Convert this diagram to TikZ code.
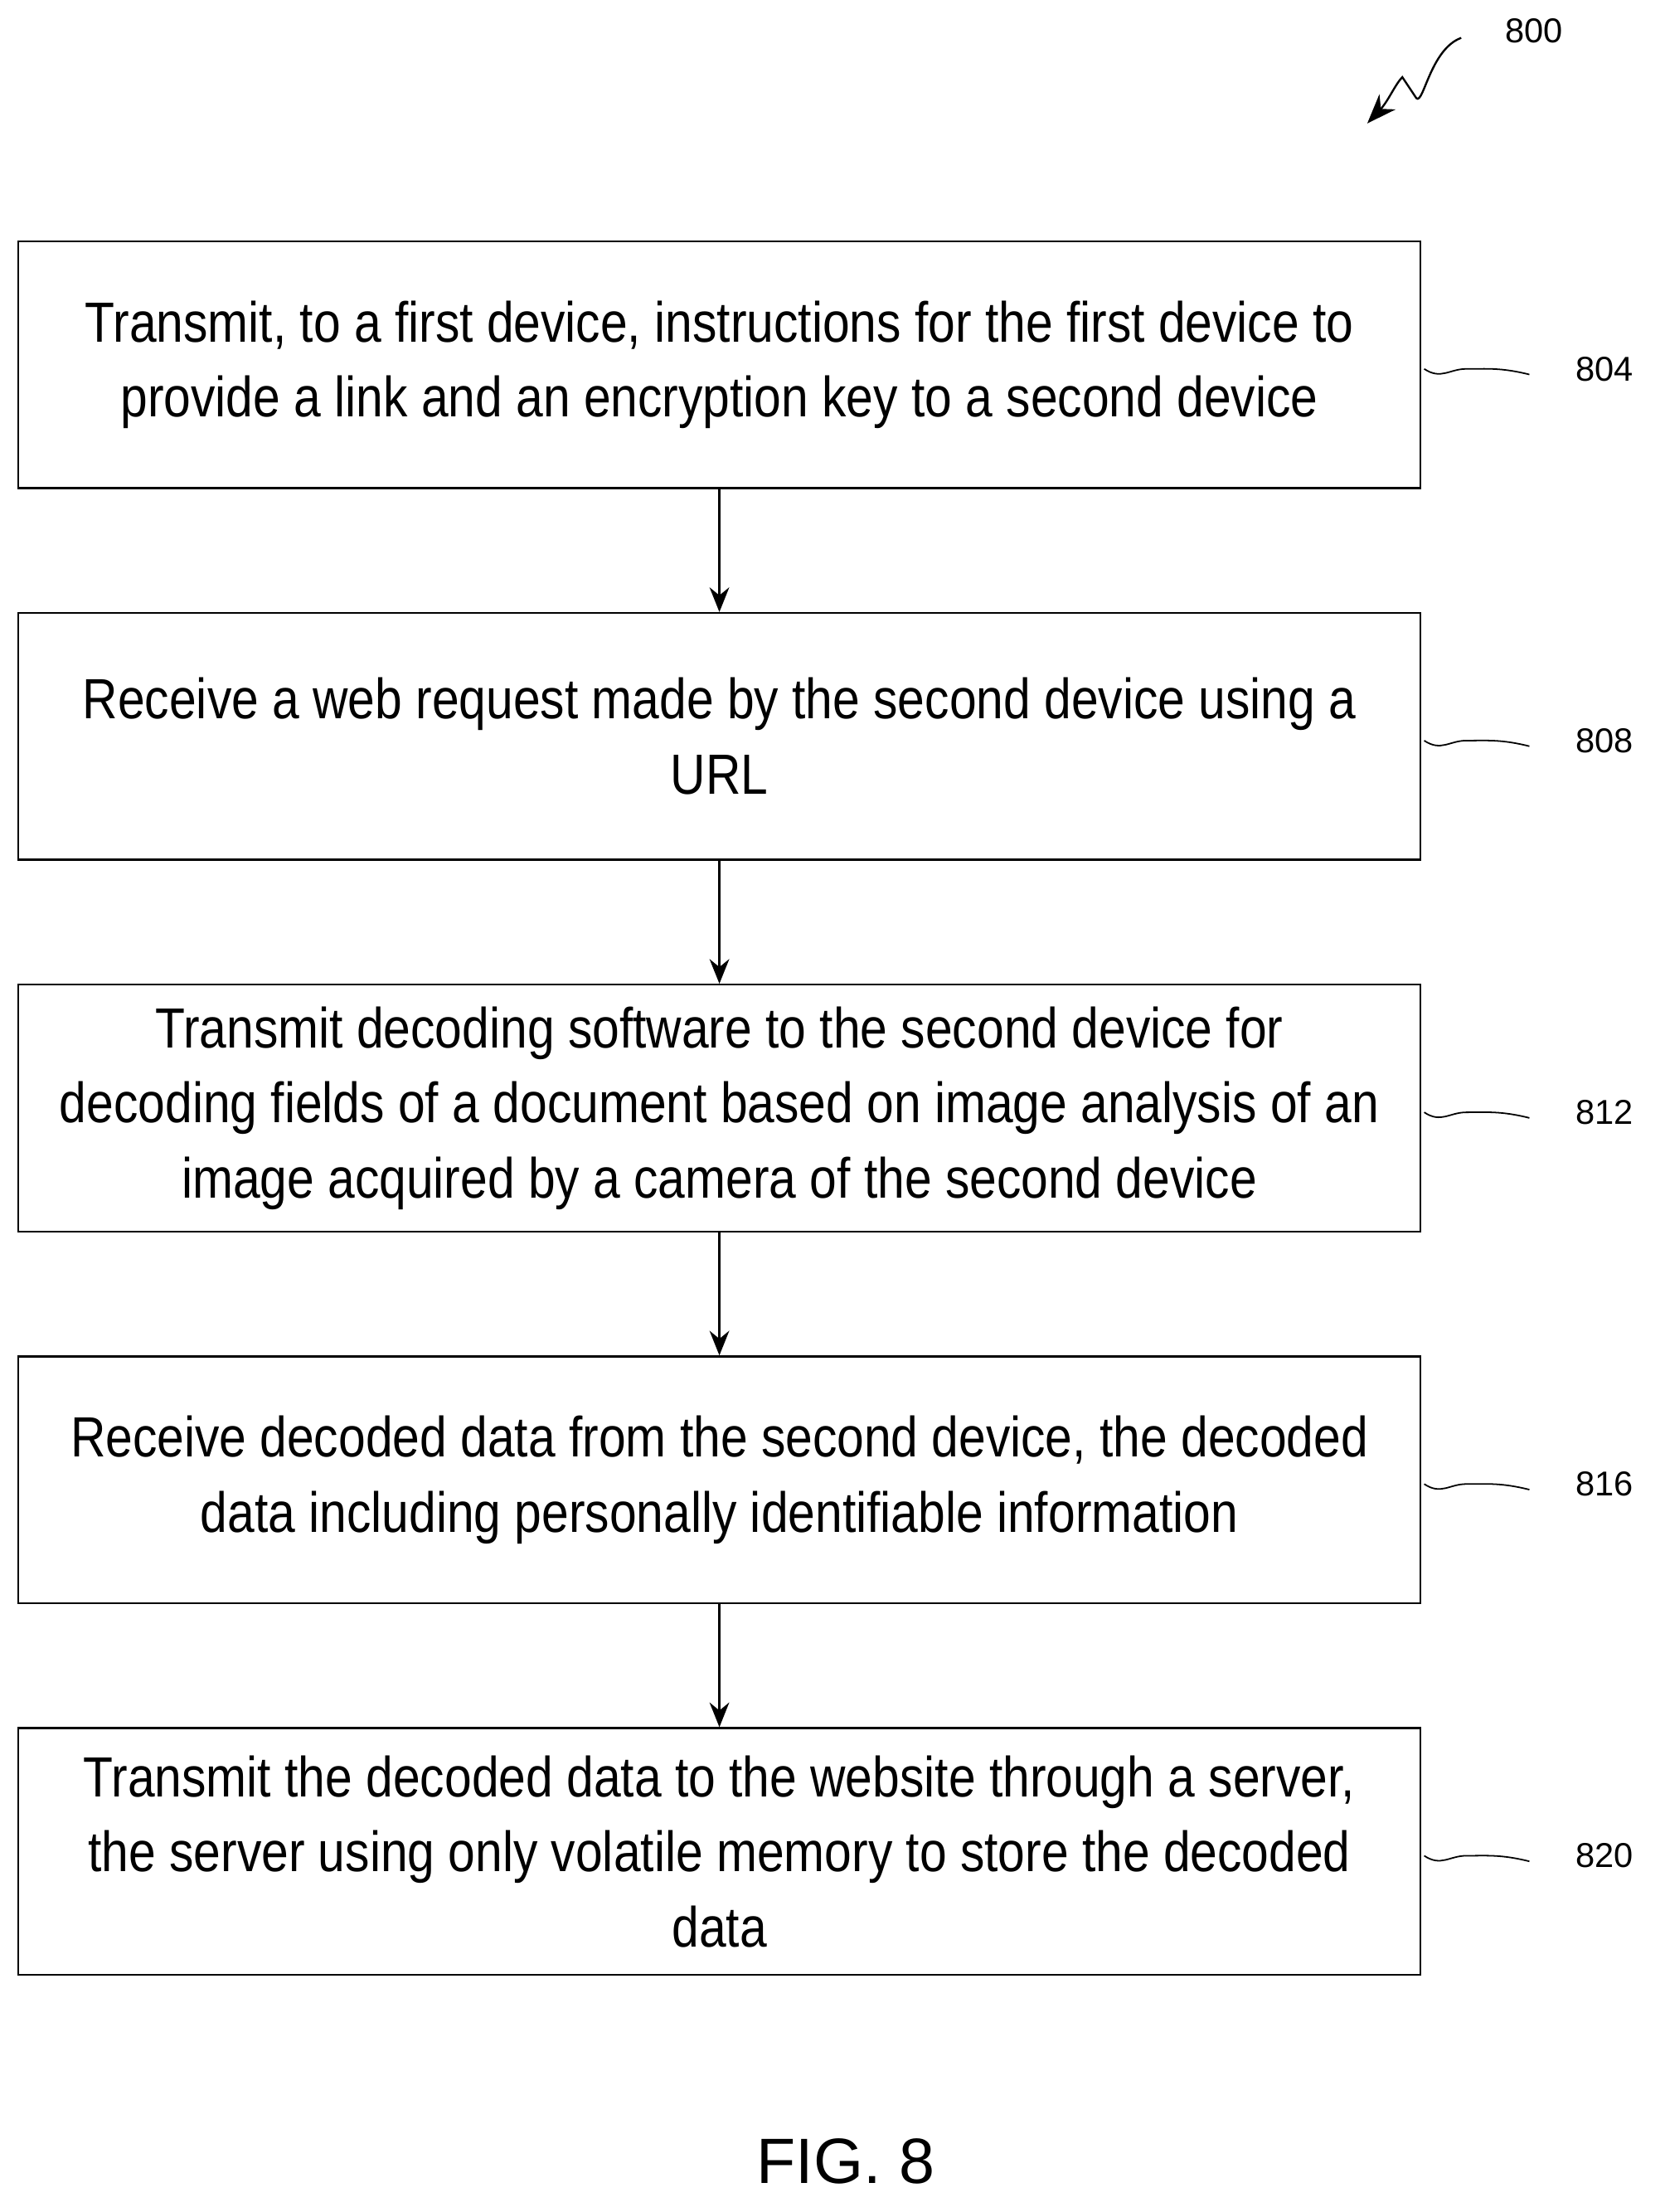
\documentclass[tikz,border=0pt]{standalone}
\usepackage{fontspec}
\setmainfont{Liberation Sans}[FakeStretch=0.86]
\newfontfamily\labfont{Liberation Sans}
\usetikzlibrary{positioning,arrows.meta}
\tikzset{
	stepbox/.style={draw,thick,minimum width=20cm,minimum height=3.52cm,align=center,font=\fontsize{23}{30.5}\selectfont},
	flow/.style={thick,-{Stealth[length=10pt,width=8pt]}},
	ref/.style={font=\labfont\fontsize{14}{16}\selectfont}
}
\begin{document}
\begin{tikzpicture}[x=0.02cm,y=-0.02cm]
	\useasboundingbox (0,0) rectangle (1187,1577);
	
	% steps
	\node[stepbox] (s804) at (513,260) {Transmit, to a first device, instructions for the first device to\\provide a link and an encryption key to a second device};
	\node[stepbox] (s808) at (513,525) {Receive a web request made by the second device using a\\URL};
	\node[stepbox] (s812) at (513,790) {Transmit decoding software to the second device for\\decoding fields of a document based on image analysis of an\\image acquired by a camera of the second device};
	\node[stepbox] (s816) at (513,1055) {Receive decoded data from the second device, the decoded\\data including personally identifiable information};
	\node[stepbox] (s820) at (513,1320) {Transmit the decoded data to the website through a server,\\the server using only volatile memory to store the decoded\\data};
	
	\draw[flow] (s804) -- (s808);
	\draw[flow] (s808) -- (s812);
	\draw[flow] (s812) -- (s816);
	\draw[flow] (s816) -- (s820);
	
	% reference numerals
	\foreach \s/\y in {804/263,808/528,812/793,816/1058,820/1323}{
		\node[ref] (n\s) at (1144,\y) {\s};
		\draw[semithick] (s\s.east) ++(2,3) .. controls +(12,8) and +(-12,0) .. +(30,0) .. controls +(15,0) and +(-20,-5) .. +(75,4);
	}
	
	\node[ref] (n800) at (1094,22) {800};
	\coordinate (c800) at (1042,27);
	\coordinate (t800) at (975,88);
	\draw[thick,-{Stealth[length=12pt,width=9pt]}] (c800) .. controls (1020,35) and (1015,75) .. (1010,70) -- (1000,55) .. controls (995,60) and (990,72) .. (t800);
	
	\node[font=\labfont\fontsize{26}{30}\selectfont] (fig) at (603,1541) {FIG. 8};
\end{tikzpicture}
\end{document}
